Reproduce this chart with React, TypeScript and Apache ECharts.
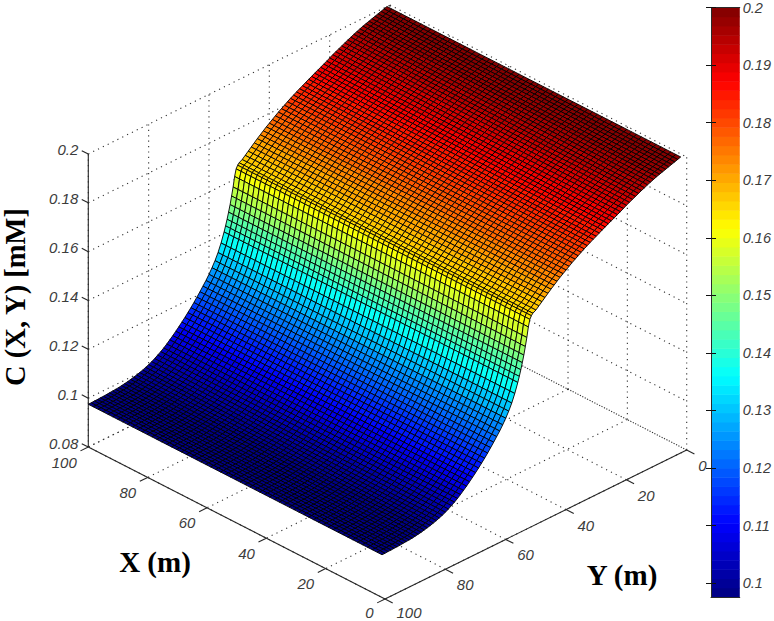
import React, { useEffect, useRef } from "react";
import * as echarts from "echarts";

// grid nodes along the X direction (m)
const xNodes = [
  1, 2.65, 4.3, 5.95, 7.6, 9.25, 10.9, 12.55, 14.2, 15.85, 17.5, 19.15, 20.8, 22.45, 24.1, 25.75, 27.4, 29.05, 30.7, 32.35,
  34, 35.65, 37.3, 38.95, 40.6, 42.25, 43.9, 45.55, 47.2, 48.85, 50.5, 52.15, 53.8, 55.45, 57.1, 58.75, 60.4, 62.05, 63.7, 65.35,
  67, 68.65, 70.3, 71.95, 73.6, 75.25, 76.9, 78.55, 80.2, 81.85, 83.5, 85.15, 86.8, 88.45, 90.1, 91.75, 93.4, 95.05, 96.7, 98.35, 100,
];
// grid nodes along the Y direction (m)
const yNodes = [
  1, 2, 3, 4, 5, 6, 7, 8, 9, 10, 11, 12, 13, 14, 15, 16, 17, 18, 19, 20, 21, 22, 23, 24, 25,
  26, 27, 28, 29, 30, 31, 32, 33, 34, 35, 36, 37, 38, 39, 40, 41, 42, 43, 44, 45, 46, 47, 48, 49, 50,
  50.5, 51, 51.5, 52, 52.5, 53, 53.5, 54, 54.5, 55,
  56, 57, 58, 59, 60, 61, 62, 63, 64, 65,
  66, 67, 68, 69, 70, 71, 72, 73, 74, 75, 76, 77, 78, 79, 80, 81, 82, 83, 84, 85,
  86, 87, 88, 89, 90, 91, 92, 93, 94, 95, 96, 97, 98, 99, 100,
];
// concentration C (mM) read along the Y direction
const cValues = [
  0.2, 0.1996, 0.1992, 0.1988, 0.1984, 0.198, 0.1976, 0.1972, 0.1968, 0.1963, 0.1958, 0.1953, 0.1947, 0.1942, 0.1936,
  0.193, 0.1924, 0.1918, 0.1912, 0.1905, 0.1898, 0.1892, 0.1885, 0.1879, 0.1873,
  0.1866, 0.186, 0.1853, 0.1846, 0.184, 0.1833, 0.1826, 0.1819, 0.1811, 0.1803, 0.1795, 0.1787, 0.1778, 0.1769, 0.176,
  0.1751, 0.1741, 0.1731, 0.1721, 0.171, 0.1699, 0.1688, 0.1677, 0.1666, 0.1659,
  0.1652, 0.164, 0.1612, 0.1572, 0.1538, 0.1506, 0.1478, 0.1452, 0.1428, 0.1406,
  0.1367, 0.1334, 0.1307, 0.1284, 0.1263, 0.1244, 0.1227, 0.121, 0.1194, 0.1178,
  0.1163, 0.1149, 0.1135, 0.1122, 0.1109, 0.1097, 0.1085, 0.1074, 0.1063, 0.1053, 0.1044, 0.1036, 0.1028, 0.1021, 0.1015,
  0.101, 0.1005, 0.1001, 0.0997, 0.0994,
  0.0991, 0.0988, 0.0986, 0.0984, 0.0982, 0.0981, 0.098, 0.0979, 0.0978, 0.0977, 0.0977, 0.0976, 0.0976, 0.0975, 0.0975,
];
const xTicks = [0, 20, 40, 60, 80, 100];
const yTicks = [0, 20, 40, 60, 80, 100];
const zTicks = [0.08, 0.1, 0.12, 0.14, 0.16, 0.18, 0.2];
const colorTicks = [0.1, 0.11, 0.12, 0.13, 0.14, 0.15, 0.16, 0.17, 0.18, 0.19, 0.2];
const C_MIN = 0.0975;
const C_MAX = 0.2;
const LEVELS = 64;

const clamp01 = (v: number) => Math.max(0, Math.min(1, v));
function jet(t: number) {
  const r = clamp01(1.5 - Math.abs(4 * t - 3));
  const g = clamp01(1.5 - Math.abs(4 * t - 2));
  const b = clamp01(1.5 - Math.abs(4 * t - 1));
  return `rgb(${Math.round(r * 255)},${Math.round(g * 255)},${Math.round(b * 255)})`;
}
const levelColor = (l: number) => jet((l + 0.5) / LEVELS);
function colorOf(c: number) {
  const l = Math.min(LEVELS - 1, Math.max(0, Math.floor(((c - C_MIN) / (C_MAX - C_MIN)) * LEVELS)));
  return levelColor(l);
}

// orthographic view of the box, in picture units
const project = (X: number, Y: number, Z: number): [number, number] => [
  686.7 - 2.967 * X - 3.017 * Y,
  450 - 1.52 * X + 1.49 * Y - 2441.7 * (Z - 0.08),
];

type Seg = [number, number, number, number, number, number];
const zLo = zTicks[0];
const zHi = zTicks[zTicks.length - 1];

const dotted: Seg[] = [];
yTicks.forEach((y) => {
  dotted.push([0, y, zLo, 100, y, zLo]);
  dotted.push([100, y, zLo, 100, y, zHi]);
});
xTicks.forEach((x) => {
  dotted.push([x, 0, zLo, x, 100, zLo]);
  dotted.push([x, 0, zLo, x, 0, zHi]);
});
zTicks.forEach((z) => {
  dotted.push([100, 100, z, 100, 0, z]);
  dotted.push([100, 0, z, 0, 0, z]);
});

const solid: Seg[] = [
  [100, 100, zLo, 100, 100, zHi],
  [100, 100, zLo, 0, 100, zLo],
  [0, 100, zLo, 0, 0, zLo],
];
// tick marks point along the neighbouring axis
zTicks.forEach((z) => solid.push([100, 100, z, 102.2, 100, z]));
xTicks.forEach((x) => solid.push([x, 100, zLo, x, 102.6, zLo]));
yTicks.forEach((y) => solid.push([0, y, zLo, -2.6, y, zLo]));

type Lab = { text: string; X: number; Y: number; Z: number; dx: number; dy: number; align: string };
const labels: Lab[] = [
  ...zTicks.map((z) => ({ text: String(z), X: 100, Y: 100, Z: z, dx: -10, dy: -4, align: "right" })),
  ...xTicks.map((x) => ({ text: String(x), X: x, Y: 100, Z: zLo, dx: -11.5, dy: x === 0 ? 13.5 : 15, align: "right" })),
  ...yTicks.map((y) => ({ text: String(y), X: 0, Y: y, Z: zLo, dx: 11.5, dy: y === 100 ? 13.5 : 15.5, align: "left" })),
];

const cells: number[][] = [];
for (let j = 0; j < yNodes.length - 1; j++) {
  for (let i = xNodes.length - 2; i >= 0; i--) cells.push([i, j]);
}
const bands: number[][] = [];
for (let l = 0; l < LEVELS; l++) bands.push([l]);

const CB_MIN = 0.0976;

export default function App() {
  const ref = useRef<HTMLDivElement>(null);
  useEffect(() => {
    const chart = echarts.init(ref.current!, undefined, { renderer: "svg" });
    const segItem = (api: any, style: any) => {
      const a = api.coord(project(api.value(0), api.value(1), api.value(2)));
      const b = api.coord(project(api.value(3), api.value(4), api.value(5)));
      return {
        type: "line",
        shape: { x1: a[0], y1: a[1], x2: b[0], y2: b[1] },
        style,
        silent: true,
      };
    };
    const colorAxis = (position: string, showLabel: boolean) => ({
      gridIndex: 1,
      type: "value",
      position,
      min: CB_MIN,
      max: C_MAX,
      z: 5,
      axisLine: { show: true, lineStyle: { color: "#2a2a2a", width: 1 } },
      axisTick: { show: true, inside: true, length: 5, customValues: colorTicks, lineStyle: { color: "#111", width: 1 } },
      axisLabel: {
        show: showLabel,
        customValues: colorTicks,
        inside: false,
        margin: 3,
        showMinLabel: true,
        showMaxLabel: true,
        formatter: (v: number) => String(v),
        fontFamily: "Liberation Sans",
        fontStyle: "italic",
        fontSize: 14.5,
        color: "#3c3c3c",
      },
      splitLine: { show: false },
    });
    const edgeAxis = (position: string) => ({
      gridIndex: 1,
      type: "value",
      position,
      min: 0,
      max: 1,
      z: 5,
      axisLine: { show: true, onZero: false, lineStyle: { color: "#2a2a2a", width: 1 } },
      axisTick: { show: false },
      axisLabel: { show: false },
      splitLine: { show: false },
    });
    chart.setOption({
      animation: false,
      backgroundColor: "#ffffff",
      grid: [
        { left: 0, top: 0, width: 774, height: 621 },
        { left: 711, top: 5, width: 31, height: 592 },
      ],
      xAxis: [
        { gridIndex: 0, type: "value", min: 0, max: 774, show: false },
        edgeAxis("bottom"),
        edgeAxis("top"),
      ],
      yAxis: [
        { gridIndex: 0, type: "value", min: 0, max: 621, inverse: true, show: false },
        colorAxis("right", true),
        colorAxis("left", false),
      ],
      series: [
        {
          type: "custom",
          name: "grid",
          coordinateSystem: "cartesian2d",
          xAxisIndex: 0,
          yAxisIndex: 0,
          clip: false,
          silent: true,
          z: 1,
          data: dotted,
          renderItem: (_p: any, api: any) =>
            segItem(api, { stroke: "#333333", lineWidth: 1.1, lineDash: [1.2, 4.2], fill: null }),
        },
        {
          type: "custom",
          name: "axes",
          coordinateSystem: "cartesian2d",
          xAxisIndex: 0,
          yAxisIndex: 0,
          clip: false,
          silent: true,
          z: 2,
          data: solid,
          renderItem: (_p: any, api: any) => segItem(api, { stroke: "#262626", lineWidth: 1.1, fill: null }),
        },
        {
          type: "custom",
          name: "C (X, Y)",
          coordinateSystem: "cartesian2d",
          xAxisIndex: 0,
          yAxisIndex: 0,
          clip: false,
          silent: true,
          progressive: 0,
          z: 3,
          data: cells,
          renderItem: (_p: any, api: any) => {
            const i = api.value(0);
            const j = api.value(1);
            const pts = [
              [i, j],
              [i + 1, j],
              [i + 1, j + 1],
              [i, j + 1],
            ].map(([a, b]) => api.coord(project(xNodes[a], yNodes[b], cValues[b])));
            return {
              type: "polygon",
              shape: { points: pts },
              style: { fill: colorOf(cValues[j + 1]), stroke: "#000", lineWidth: 0.9 },
              silent: true,
            };
          },
        },
        {
          type: "custom",
          name: "labels",
          coordinateSystem: "cartesian2d",
          xAxisIndex: 0,
          yAxisIndex: 0,
          clip: false,
          silent: true,
          z: 4,
          data: labels.map((_, i) => [i]),
          renderItem: (_p: any, api: any) => {
            const l = labels[api.value(0)];
            const c = api.coord(project(l.X, l.Y, l.Z));
            return {
              type: "text",
              silent: true,
              style: {
                text: l.text,
                x: c[0] + l.dx,
                y: c[1] + l.dy,
                align: l.align,
                verticalAlign: "middle",
                fill: "#3c3c3c",
                fontFamily: "Liberation Sans",
                fontStyle: "italic",
                fontSize: 15,
              },
            };
          },
        },
        {
          type: "custom",
          name: "colorbar",
          coordinateSystem: "cartesian2d",
          xAxisIndex: 1,
          yAxisIndex: 1,
          silent: true,
          z: 2,
          data: bands,
          renderItem: (_p: any, api: any) => {
            const l = api.value(0);
            const lo = CB_MIN + ((C_MAX - CB_MIN) * l) / LEVELS;
            const hi = CB_MIN + ((C_MAX - CB_MIN) * (l + 1)) / LEVELS;
            const a = api.coord([0, lo]);
            const b = api.coord([1, hi]);
            return {
              type: "rect",
              silent: true,
              shape: { x: a[0], y: b[1], width: b[0] - a[0], height: a[1] - b[1] + 0.5 },
              style: { fill: levelColor(l) },
            };
          },
        },
      ],
      graphic: [
        {
          type: "text",
          x: 15,
          y: 297,
          rotation: Math.PI / 2,
          style: {
            text: "C (X, Y) [mM]",
            align: "center",
            verticalAlign: "middle",
            fill: "#000",
            font: 'bold 28.5px "Liberation Serif"',
          },
        },
        {
          type: "text",
          x: 155,
          y: 562,
          style: { text: "X (m)", align: "center", verticalAlign: "middle", fill: "#000", font: 'bold 29px "Liberation Serif"' },
        },
        {
          type: "text",
          x: 622,
          y: 575,
          style: { text: "Y (m)", align: "center", verticalAlign: "middle", fill: "#000", font: 'bold 29px "Liberation Serif"' },
        },
      ],
    });
    return () => chart.dispose();
  }, []);
  return <div ref={ref} style={{ position: "absolute", left: 0, top: 0, width: 774, height: 621 }} />;
}
